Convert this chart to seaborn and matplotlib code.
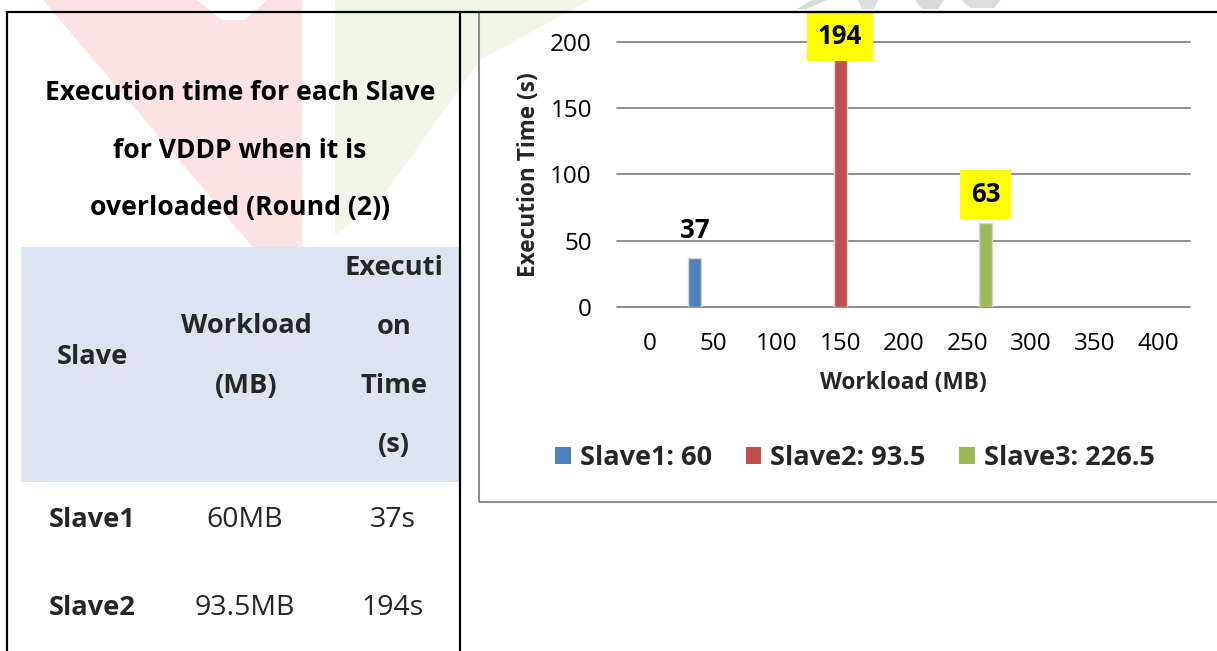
import matplotlib
matplotlib.use("Agg")
import matplotlib.pyplot as plt
from matplotlib.patches import Rectangle, Polygon, Patch
from matplotlib.lines import Line2D
import pandas as pd
import seaborn as sns

# ---------------- data ----------------
workload_ticks = ["0", "50", "100", "150", "200", "250", "300", "350", "400"]
slave_series = ["Slave1: 60", "Slave2: 93.5", "Slave3: 226.5"]
bar_workload = ["50", "150", "250"]
exec_time_s = [37, 194, 63]
series_colors = ["#4f81bd", "#c0504d", "#9bbb59"]
y_ticks = [0, 50, 100, 150, 200]
label_boxed = [False, True, True]

table_title = ["Execution time for each Slave", "for VDDP when it is", "overloaded (Round (2))"]
table_head_slave = ["Slave"]
table_head_workload = ["Workload", "(MB)"]
table_head_time = ["Executi", "on", "Time", "(s)"]
table_slaves = ["Slave1", "Slave2"]
table_workload = ["60MB", "93.5MB"]
table_time = ["37s", "194s"]

# ---------------- figure helpers (pixel layout) ----------------
W, H = 1217, 651


def fx(x):
    return x / W


def fy(y):
    return 1 - y / H


sns.set_theme(style="white")
plt.rcParams["font.family"] = ["Open Sans", "DejaVu Sans"]

fig = plt.figure(figsize=(W / 100, H / 100), dpi=100)
fig.patch.set_facecolor("white")

# faint page watermark behind the table and chart
wm = [
    ([(43, 0), (302, 0), (302, 305)], "#fde2e2"),
    ([(197, 0), (267, 0), (245, 20), (222, 20)], "#ffffff"),
    ([(335, 0), (590, 0), (480, 60), (380, 200), (335, 235)], "#f0f7e7"),
    ([(797, 9), (812, 0), (827, 0), (806, 9)], "#d9d9d9"),
    ([(858, 0), (878, 0), (874, 9), (862, 9)], "#dcdcdc"),
    ([(915, 0), (944, 0), (938, 9), (922, 9)], "#d9d9d9"),
    ([(962, 0), (1001, 0), (994, 8), (970, 8)], "#dcdcdc"),
]
for pts, col in wm:
    fig.patches.append(Polygon([(fx(x), fy(y)) for x, y in pts], closed=True,
                               transform=fig.transFigure, facecolor=col,
                               edgecolor="none", zorder=0))

# table header shading
fig.patches.append(Rectangle((fx(21), fy(482)), (459 - 21) / W, (482 - 247) / H,
                             transform=fig.transFigure, facecolor="#dbe5f1",
                             edgecolor="none", zorder=1))

# chart frame
fig.patches.append(Rectangle((fx(478.5), fy(501.5)), (1240 - 478.5) / W, (501.5 - 12) / H,
                             transform=fig.transFigure, facecolor="none",
                             edgecolor="#8e8e8e", linewidth=1.5, zorder=2))

# table borders
for xs, ys in [((7, 1217), (12, 12)), ((7, 7), (12, 651)), ((460, 460), (12, 651))]:
    fig.lines.append(Line2D([fx(v) for v in xs], [fy(v) for v in ys],
                            transform=fig.transFigure, color="black",
                            linewidth=1.6, zorder=3))

# ---------------- table text ----------------
for i, line in enumerate(table_title):
    fig.text(fx(240), fy(93 + i * 57.5), line, ha="center", va="center",
             fontsize=19.1, fontweight="bold", color="black", zorder=4)

fig.text(fx(92), fy(357), table_head_slave[0], ha="center", va="center",
         fontsize=19.6, fontweight="bold", zorder=4)
for i, line in enumerate(table_head_workload):
    fig.text(fx(246), fy(326 + i * 60), line, ha="center", va="center",
             fontsize=19.6, fontweight="bold", zorder=4)
for i, line in enumerate(table_head_time):
    fig.text(fx(394), fy(268 + i * 59), line, ha="center", va="center",
             fontsize=19.6, fontweight="bold", zorder=4)

for i in range(len(table_slaves)):
    yy = 520 + i * 88
    fig.text(fx(49), fy(yy), table_slaves[i], ha="left", va="center",
             fontsize=19.6, fontweight="bold", zorder=4)
    fig.text(fx(245), fy(yy), table_workload[i], ha="center", va="center",
             fontsize=20.5, zorder=4)
    fig.text(fx(393), fy(yy), table_time[i], ha="center", va="center",
             fontsize=20.5, zorder=4)

# ---------------- chart ----------------
ax = fig.add_axes([fx(617.5), fy(307), (1190 - 617.5) / W, (307 - 41.7) / H])
ax.set_facecolor("none")

df = pd.DataFrame({"Workload": bar_workload, "Time": exec_time_s, "Slave": slave_series})
sns.barplot(data=df, x="Workload", y="Time", hue="Slave", order=workload_ticks,
            hue_order=slave_series, palette=series_colors, saturation=1,
            width=0.87, gap=0.3, dodge=True, errorbar=None,
            edgecolor="#d6d6d6", linewidth=1.0, legend=False, ax=ax, zorder=3)

ax.set_ylim(0, 200)
ax.set_yticks(y_ticks)
ax.yaxis.grid(True, color="#878787", linewidth=1.3)
ax.xaxis.grid(False)
ax.set_axisbelow(True)
for line in ax.get_ygridlines():
    line.set_clip_on(False)
for s in ax.spines.values():
    s.set_visible(False)

ax.tick_params(axis="y", length=0, pad=18.5, labelsize=17.5, labelcolor="black")
ax.tick_params(axis="x", length=0, pad=18, labelsize=17.5, labelcolor="black")

ax.set_xlabel("Workload (MB)", fontsize=16.3, fontweight="bold", va="center")
ax.set_ylabel("Execution Time (s)", fontsize=16.3, fontweight="bold", va="center")
ax.xaxis.set_label_coords(0.5, (307 - 383.3) / (307 - 41.7))
ax.yaxis.set_label_coords((529 - 617.5) / (1190 - 617.5), 0.5)

# value labels above each bar
label_offsets_pt = [20.0, 9.4, 20.9]
for cont, boxed, off in zip(ax.containers, label_boxed, label_offsets_pt):
    for bar in cont:
        h = bar.get_height()
        if pd.isna(h):
            continue
        xc = bar.get_x() + bar.get_width() / 2
        bbox = dict(boxstyle="square,pad=0.42", facecolor="#ffff00", edgecolor="none") if boxed else None
        ax.annotate(f"{h:.0f}", xy=(xc, h), xytext=(0, off), textcoords="offset points",
                    ha="center", va="center", fontsize=18.5, fontweight="bold",
                    color="black", bbox=bbox, zorder=6, annotation_clip=False)

handles = [Patch(facecolor=c, edgecolor="none") for c in series_colors]
fig.legend(handles, slave_series, loc="center", bbox_to_anchor=(fx(855), fy(458.3)),
           ncol=3, frameon=False, prop={"weight": "bold", "size": 19.5},
           handlelength=0.58, handleheight=0.58, handletextpad=0.33,
           columnspacing=1.25, borderaxespad=0)

fig.savefig("out.png", dpi=100, facecolor="white")
